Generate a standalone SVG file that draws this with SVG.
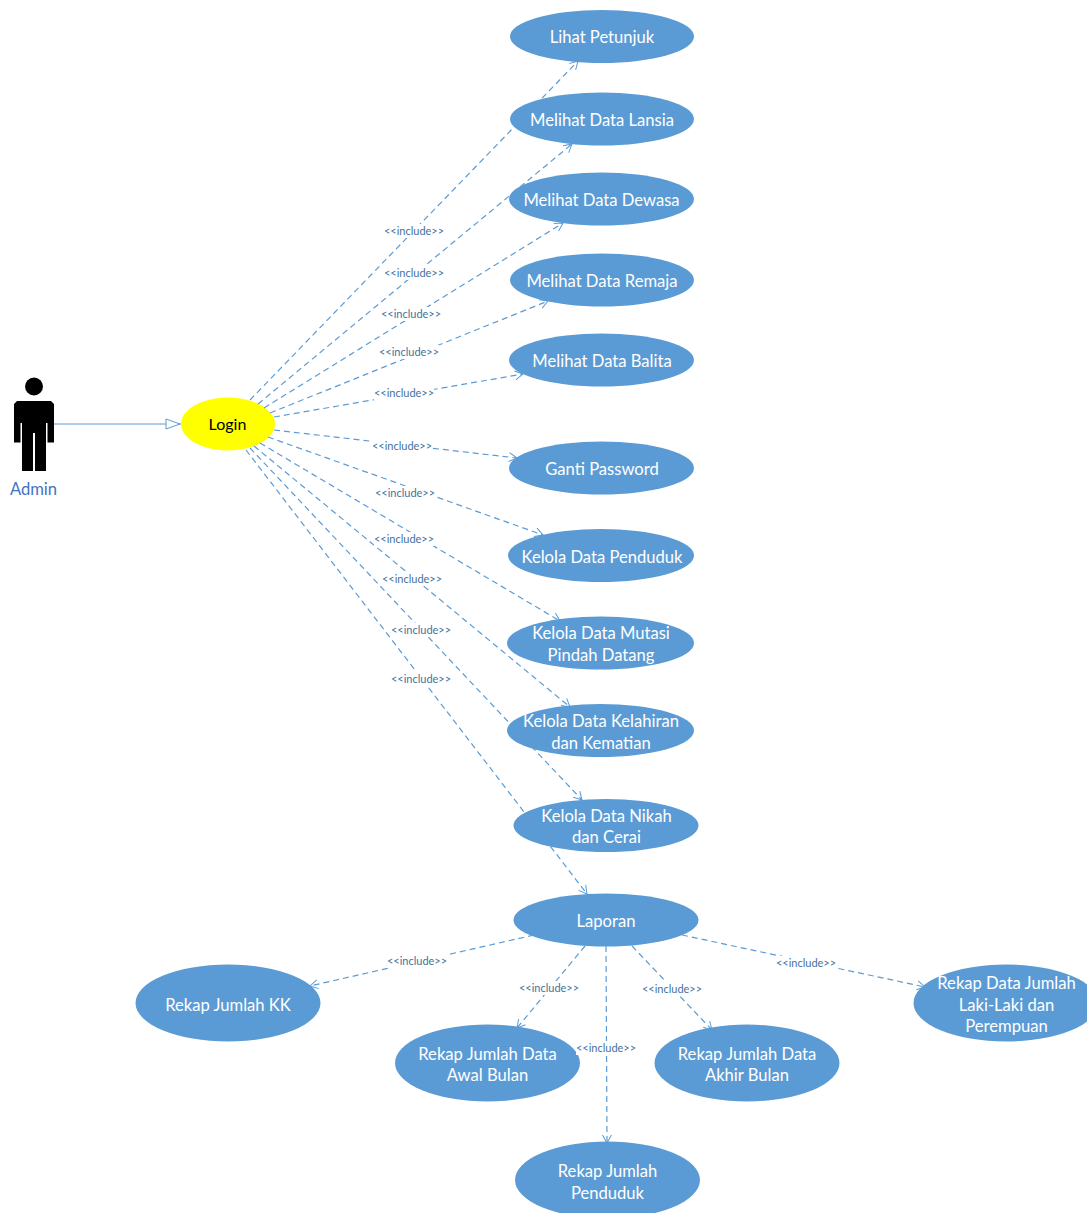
<svg xmlns="http://www.w3.org/2000/svg" width="1087" height="1213" viewBox="0 0 1087 1213">
<style>
text{font-family:"Lato","Open Sans","Liberation Sans",sans-serif;text-anchor:middle}
.uc{fill:#5b9bd5}
.t{fill:#fff;font-size:16.6px;transform:translateY(1px)}
.d{fill:none;stroke:#5b9bd5;stroke-width:1.2;stroke-dasharray:6 4;marker-end:url(#open)}
.l{fill:#44729d;font-size:11px}
.b{fill:#fff}
</style>
<defs>
<marker id="open" markerUnits="userSpaceOnUse" markerWidth="12" markerHeight="12" refX="9" refY="5" orient="auto"><path d="M1 0.5L9 5L1 9.5" fill="none" stroke="#5b9bd5"/></marker>
<marker id="tri" markerUnits="userSpaceOnUse" markerWidth="18" markerHeight="14" refX="16" refY="6" orient="auto"><path d="M1 1L15 6L1 11Z" fill="#fff" stroke="#5b9bd5"/></marker>
</defs>
<g id="actor-admin">
<circle cx="34" cy="386.500" r="9"/>
<path d="M17 401H51L54 404V442.500H47.500V423H46V471H35V433H33V471H22V423H20.500V442.500H14V404Z"/>
<text x="33.500" y="495" style="font-size:16.6px;fill:#4472c4">Admin</text>
</g>
<g id="uc-login"><ellipse cx="228" cy="424" rx="47" ry="26.500" fill="#ffff00"/><text x="227.500" y="430" style="font-size:16px;fill:#000">Login</text></g>
<g id="uc-petunjuk"><ellipse class="uc" cx="602" cy="36.500" rx="92" ry="26.500"/><text class="t" x="602" y="42">Lihat Petunjuk</text></g>
<g id="uc-lansia"><ellipse class="uc" cx="602" cy="119" rx="92" ry="26.500"/><text class="t" x="602" y="125">Melihat Data Lansia</text></g>
<g id="uc-dewasa"><ellipse class="uc" cx="601.500" cy="199" rx="92.500" ry="26.500"/><text class="t" x="601.500" y="205">Melihat Data Dewasa</text></g>
<g id="uc-remaja"><ellipse class="uc" cx="602" cy="280" rx="92" ry="26.500"/><text class="t" x="602" y="286">Melihat Data Remaja</text></g>
<g id="uc-balita"><ellipse class="uc" cx="601.500" cy="360" rx="92.500" ry="26.500"/><text class="t" x="602" y="366">Melihat Data Balita</text></g>
<g id="uc-password"><ellipse class="uc" cx="601.500" cy="468" rx="92.500" ry="26.500"/><text class="t" x="602" y="474">Ganti Password</text></g>
<g id="uc-penduduk"><ellipse class="uc" cx="601" cy="555.500" rx="93" ry="26.500"/><text class="t" x="602" y="562">Kelola Data Penduduk</text></g>
<g id="uc-mutasi"><ellipse class="uc" cx="600.500" cy="643" rx="93.500" ry="26.500"/><text class="t" x="601" y="638">Kelola Data Mutasi</text><text class="t" x="601" y="660">Pindah Datang</text></g>
<g id="uc-kelahiran"><ellipse class="uc" cx="600.500" cy="730.500" rx="93.500" ry="26.500"/><text class="t" x="601" y="726">Kelola Data Kelahiran</text><text class="t" x="601" y="748">dan Kematian</text></g>
<g id="uc-nikah"><ellipse class="uc" cx="606" cy="825.500" rx="92.500" ry="26.500"/><text class="t" x="606.500" y="821">Kelola Data Nikah</text><text class="t" x="606.500" y="842">dan Cerai</text></g>
<g id="uc-laporan"><ellipse class="uc" cx="606" cy="920" rx="92.500" ry="26.500"/><text class="t" x="606" y="926">Laporan</text></g>
<g id="uc-kk"><ellipse class="uc" cx="228" cy="1003" rx="92.500" ry="38.500"/><text class="t" x="228" y="1010">Rekap Jumlah KK</text></g>
<g id="uc-awal"><ellipse class="uc" cx="487.500" cy="1063" rx="92.500" ry="38.500"/><text class="t" x="487.500" y="1059">Rekap Jumlah Data</text><text class="t" x="487.500" y="1080">Awal Bulan</text></g>
<g id="uc-akhir"><ellipse class="uc" cx="747" cy="1063" rx="92.500" ry="38.500"/><text class="t" x="747" y="1059">Rekap Jumlah Data</text><text class="t" x="747" y="1080">Akhir Bulan</text></g>
<g id="uc-jumlah"><ellipse class="uc" cx="607.500" cy="1180" rx="92.500" ry="38.500"/><text class="t" x="607.500" y="1176">Rekap Jumlah</text><text class="t" x="607.500" y="1198">Penduduk</text></g>
<g id="uc-gender"><ellipse class="uc" cx="1006" cy="1003" rx="92.500" ry="38.500"/><text class="t" x="1006.500" y="988">Rekap Data Jumlah</text><text class="t" x="1006.500" y="1010">Laki-Laki dan</text><text class="t" x="1006.500" y="1031">Perempuan</text></g>
<g id="connectors">
<path d="M54 424H181" fill="none" stroke="#5b9bd5" marker-end="url(#tri)"/>
<path class="d" d="M250 400L578 61"/>
<path class="d" d="M258 404L572 144"/>
<path class="d" d="M264 408L563 223"/>
<path class="d" d="M270 413L548 301"/>
<path class="d" d="M274 417L523 374"/>
<path class="d" d="M274 430L517 458"/>
<path class="d" d="M268 437L543 535"/>
<path class="d" d="M260 443L560 621"/>
<path class="d" d="M254 446L570 707"/>
<path class="d" d="M250 448L582 800"/>
<path class="d" d="M246 450L587 894"/>
<path class="d" d="M534 935L310 986"/>
<path class="d" d="M585 946L517 1028"/>
<path class="d" d="M606 946L607 1143"/>
<path class="d" d="M632 946L712 1030"/>
<path class="d" d="M682 935L925 987"/>
<g id="labels">
<rect class="b" x="384" y="224" width="60" height="14"/><text class="l" x="414" y="235">&lt;&lt;include&gt;&gt;</text>
<rect class="b" x="384" y="266" width="60" height="14"/><text class="l" x="414" y="277">&lt;&lt;include&gt;&gt;</text>
<rect class="b" x="381" y="307" width="60" height="14"/><text class="l" x="411" y="318">&lt;&lt;include&gt;&gt;</text>
<rect class="b" x="379" y="345" width="60" height="14"/><text class="l" x="409" y="356">&lt;&lt;include&gt;&gt;</text>
<rect class="b" x="374" y="386" width="60" height="14"/><text class="l" x="404" y="397">&lt;&lt;include&gt;&gt;</text>
<rect class="b" x="372" y="439" width="60" height="14"/><text class="l" x="402" y="450">&lt;&lt;include&gt;&gt;</text>
<rect class="b" x="375" y="486" width="60" height="14"/><text class="l" x="405" y="497">&lt;&lt;include&gt;&gt;</text>
<rect class="b" x="374" y="532" width="60" height="14"/><text class="l" x="404" y="543">&lt;&lt;include&gt;&gt;</text>
<rect class="b" x="382" y="572" width="60" height="14"/><text class="l" x="412" y="583">&lt;&lt;include&gt;&gt;</text>
<rect class="b" x="391" y="623" width="60" height="14"/><text class="l" x="421" y="634">&lt;&lt;include&gt;&gt;</text>
<rect class="b" x="391" y="672" width="60" height="14"/><text class="l" x="421" y="683">&lt;&lt;include&gt;&gt;</text>
<rect class="b" x="387" y="954" width="60" height="14"/><text class="l" x="417" y="965">&lt;&lt;include&gt;&gt;</text>
<rect class="b" x="519" y="981" width="60" height="14"/><text class="l" x="549" y="992">&lt;&lt;include&gt;&gt;</text>
<rect class="b" x="576" y="1041" width="60" height="14"/><text class="l" x="606" y="1052">&lt;&lt;include&gt;&gt;</text>
<rect class="b" x="642" y="982" width="60" height="14"/><text class="l" x="672" y="993">&lt;&lt;include&gt;&gt;</text>
<rect class="b" x="776" y="956" width="60" height="14"/><text class="l" x="806" y="967">&lt;&lt;include&gt;&gt;</text>
</g>
</g>
</svg>
